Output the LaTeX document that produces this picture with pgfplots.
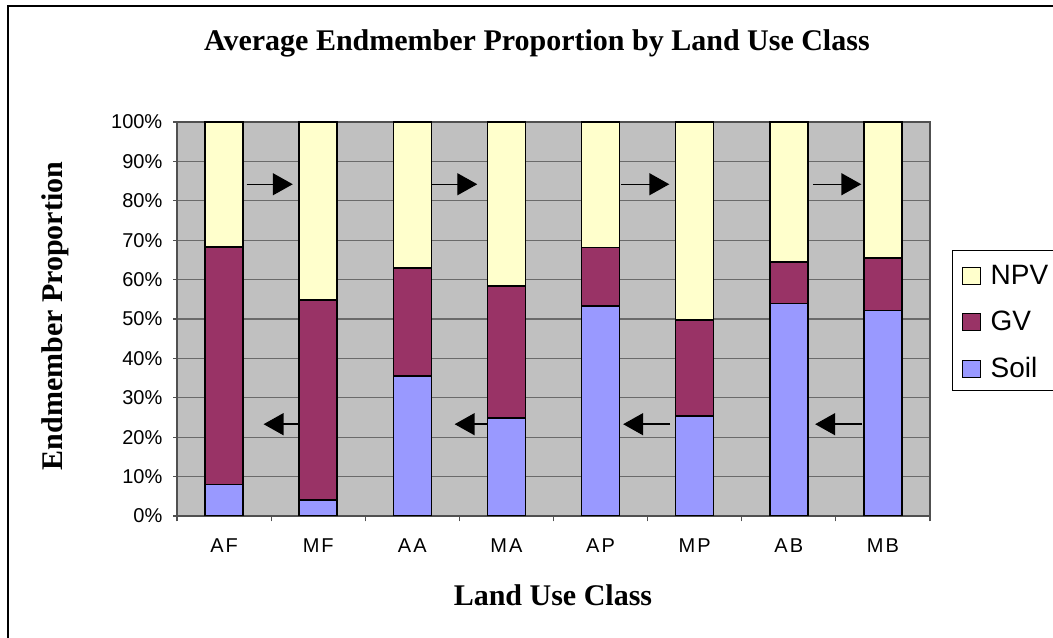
\documentclass[border=0pt]{standalone}
\usepackage{pgfplots}
\pgfplotsset{compat=1.18}
\usepackage{pgfplotstable}
\usetikzlibrary{arrows.meta}
\usepackage{fontspec}
\setmainfont{Liberation Serif}
\setsansfont{Liberation Sans}
\definecolor{bggray}{HTML}{C0C0C0}
\definecolor{gridgray}{HTML}{6A6A6A}
\definecolor{axisgray}{HTML}{505050}
\definecolor{npvc}{HTML}{FFFFCC}
\definecolor{gvc}{HTML}{993366}
\definecolor{soilc}{HTML}{9999FF}
\pgfplotstableread{
x soil gv npv
0 8.0 60.2 31.8
1 4.0 50.8 45.2
2 35.6 27.3 37.1
3 24.8 33.6 41.6
4 53.3 14.8 31.9
5 25.4 24.3 50.3
6 53.9 10.5 35.6
7 52.2 13.3 34.5
}\datatable
\begin{document}
\begin{tikzpicture}
\useasboundingbox (0pt,0pt) rectangle (789.75pt,478.5pt);
\clip (0pt,0pt) rectangle (789.75pt,478.5pt);
\fill[white] (0pt,0pt) rectangle (789.75pt,478.5pt);
\draw[line width=1.5pt] (5.9pt,-2pt) -- (5.9pt,474.2pt) -- (792pt,474.2pt);
\begin{axis}[
  at={(132.75pt,91.5pt)}, anchor=south west,
  scale only axis, width=564.75pt, height=295.5pt,
  xmin=-0.5, xmax=7.5, ymin=0, ymax=100,
  ybar stacked, bar width=28.5pt,
  axis background/.style={fill=bggray},
  ymajorgrids, grid style={draw=gridgray, line width=0.8pt},
  axis line style={draw=axisgray, line width=1.1pt},
  xtick={0,...,7}, xticklabels={AF,MF,AA,MA,AP,MP,AB,MB},
  major x tick style={draw=none},
  minor xtick={-0.5,0.5,...,7.5},
  ytick={0,10,...,100},
  yticklabel={\pgfmathprintnumber{\tick}\%},
  tick align=outside, tick pos=left,
  major tick length=3pt, minor tick length=4pt,
  tick style={draw=axisgray, line width=0.8pt},
  /pgf/number format/assume math mode=true,
  ticklabel style={font=\sffamily\fontsize{15}{18}\selectfont},
  xticklabel style={anchor=base, yshift=-24.25pt, font=\sffamily\fontsize{15}{18}\selectfont\addfontfeatures{LetterSpace=10}},
  yticklabel style={xshift=-4.5pt},
  title={Average Endmember Proportion by Land Use Class},
  title style={at={(axis description cs:0.478,1.1599)}, anchor=base, font=\bfseries\fontsize{22.5}{27}\selectfont},
  xlabel={Land Use Class},
  xlabel style={at={(axis description cs:0.4993,-0.2259)}, anchor=base, font=\bfseries\fontsize{22.5}{27}\selectfont},
  ylabel={Endmember Proportion},
  ylabel style={at={(axis description cs:-0.1518,0.5076)}, anchor=base, rotate=0, font=\bfseries\fontsize{22.5}{27}\selectfont},
  reverse legend,
  legend cell align=left,
  legend style={at={(axis description cs:1.029,0.675)}, anchor=north west,
    draw=black, line width=0.75pt, fill=white,
    font=\sffamily\fontsize{21}{25}\selectfont,
    inner xsep=7pt, inner ysep=9.75pt,
    nodes={inner sep=0pt, text height=15.5pt, text depth=0pt},
    row sep=19pt, column sep=7.5pt},
  every axis plot post/.append style={draw=black, line width=1.2pt,
    legend image code/.code={\draw[##1, line width=0.75pt] (0pt,-7.75pt) rectangle (13.5pt,5pt);}},
]
\addplot[fill=soilc] table[x=x, y=soil] {\datatable};
\addplot[fill=gvc] table[x=x, y=gv] {\datatable};
\addplot[fill=npvc] table[x=x, y=npv] {\datatable};
\legend{Soil,GV,NPV}
\tikzset{arr/.style={-{Triangle[length=15pt,width=16.5pt]}, line width=1.1pt}}
\draw[arr] (axis cs:0.24,84.2) -- (axis cs:0.73,84.2);
\draw[arr] (axis cs:2.18,84.2) -- (axis cs:2.69,84.2);
\draw[arr] (axis cs:4.22,84.2) -- (axis cs:4.73,84.2);
\draw[arr] (axis cs:6.26,84.2) -- (axis cs:6.77,84.2);
\draw[arr] (axis cs:0.92,23.3) -- (axis cs:0.42,23.3);
\draw[arr] (axis cs:2.96,23.3) -- (axis cs:2.45,23.3);
\draw[arr] (axis cs:4.74,23.3) -- (axis cs:4.24,23.3);
\draw[arr] (axis cs:6.78,23.3) -- (axis cs:6.28,23.3);
\end{axis}
\end{tikzpicture}
\end{document}
